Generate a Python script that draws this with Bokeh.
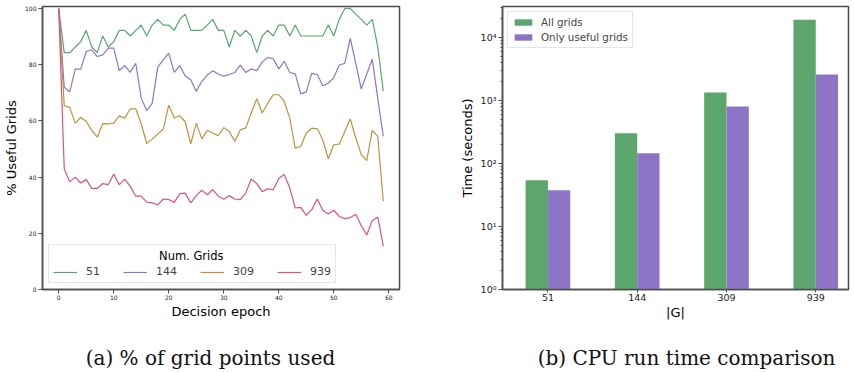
from bokeh.plotting import figure
from bokeh.layouts import row, column
from bokeh.models import (ColumnDataSource, FixedTicker, Legend, LegendItem, Label,
                          CustomJSTickFormatter)
from bokeh.core.properties import value
from bokeh.embed import file_html
from bokeh.resources import INLINE

# ---------------- data ----------------
epochs = list(range(60))
grids_51 = [100, 84.3, 84.3, 86.3, 88.2, 92.2, 86.3, 84.3, 90.2, 86.3,
            88.2, 92.2, 92.2, 90.2, 92.2, 94.1, 90.2, 94.1, 96.1, 94.1,
            94.1, 92.2, 96.1, 98.0, 92.2, 92.2, 92.2, 94.1, 96.1, 92.2,
            92.2, 86.3, 92.2, 90.2, 92.2, 90.2, 84.3, 90.2, 92.2, 90.2,
            94.1, 94.1, 90.2, 94.1, 90.2, 90.2, 90.2, 90.2, 90.2, 94.1,
            90.2, 96.1, 100, 100, 98.0, 96.1, 94.1, 96.1, 86.3, 70.6]
grids_144 = [100, 72.0, 70.3, 78.4, 78.4, 84.7, 85.3, 82.9, 83.5, 85.9,
             85.9, 77.9, 79.7, 77.3, 80.5, 68.1, 63.6, 66.3, 79.1, 81.7,
             84.1, 77.3, 79.7, 76.0, 74.6, 70.5, 74.0, 76.3, 77.8, 76.7,
             75.9, 76.5, 77.2, 79.8, 77.2, 78.5, 77.9, 81.0, 82.6, 82.1,
             78.5, 81.2, 77.2, 76.7, 69.6, 70.3, 76.9, 76.5, 72.5, 73.4,
             75.4, 79.8, 80.5, 89.4, 80.5, 71.3, 76.7, 81.9, 68.0, 54.5]
grids_309 = [100, 65.4, 64.8, 59.2, 61.3, 59.8, 56.6, 54.2, 59.0, 58.9,
             59.2, 61.8, 61.0, 64.3, 64.3, 58.9, 51.9, 53.5, 55.3, 57.1,
             65.6, 61.0, 61.9, 59.6, 51.8, 59.2, 53.6, 56.6, 55.7, 54.7,
             57.6, 56.2, 52.7, 56.8, 57.5, 62.8, 67.9, 62.8, 66.3, 69.3,
             69.3, 66.9, 61.0, 50.3, 50.9, 55.7, 57.4, 57.2, 53.3, 46.5,
             51.5, 51.7, 56.2, 60.7, 53.9, 48.0, 45.9, 56.6, 54.5, 31.4]
grids_939 = [100, 43.0, 38.3, 40.0, 37.9, 39.1, 36.0, 36.0, 37.7, 37.3,
             41.1, 37.3, 39.3, 36.7, 33.2, 33.2, 31.1, 30.8, 30.1, 32.2,
             32.0, 31.0, 34.1, 34.3, 30.8, 33.4, 35.3, 33.7, 35.5, 33.2,
             32.1, 33.4, 32.2, 32.0, 34.3, 39.3, 37.7, 34.8, 35.8, 35.5,
             39.5, 40.9, 36.1, 29.0, 29.2, 26.4, 28.4, 32.2, 28.2, 26.9,
             28.2, 26.0, 25.2, 25.6, 26.8, 22.7, 19.4, 24.5, 25.8, 15.4]
series_names = ["51", "144", "309", "939"]
epoch_ticks = [0, 10, 20, 30, 40, 50, 60]
pct_ticks = [0, 20, 40, 60, 80, 100]

grid_sizes = ["51", "144", "309", "939"]
time_all = [54, 300, 1340, 19000]
time_useful = [37.7, 145, 800, 2570]
time_ticks = [1, 10, 100, 1000, 10000]

caption_a = "(a) % of grid points used"
caption_b = "(b) CPU run time comparison"

# ---------------- styles ----------------
FONT = "DejaVu Sans"
SPINE = "#4d4d4d"
line_colors = ["#5aa66e", "#8f75c7", "#c0913f", "#d4557d"]
bar_green = "#5ca66e"
bar_purple = "#8e74c6"

def style_axes(p, tick_size):
    for ax in (p.xaxis[0], p.yaxis[0]):
        ax.axis_line_color = SPINE
        ax.axis_line_width = 1.5
        ax.major_tick_line_color = SPINE
        ax.major_tick_out = 4
        ax.major_tick_in = 0
        ax.major_label_text_font = FONT
        ax.major_label_text_font_size = tick_size
        ax.major_label_text_color = "#222222"
        ax.axis_label_text_font = FONT
        ax.axis_label_text_font_size = "13px"
        ax.axis_label_text_font_style = "normal"
        ax.axis_label_text_color = "#000000"
    p.xgrid.visible = False
    p.ygrid.visible = False
    p.outline_line_color = SPINE
    p.outline_line_width = 1.5
    p.outline_line_alpha = 1.0

# ---------------- left plot ----------------
p1 = figure(width=446, height=326, x_range=(-2.95, 61.95), y_range=(0, 100.7),
            output_backend="svg", toolbar_location=None, title=None,
            min_border_left=42, min_border_right=47, min_border_top=6, min_border_bottom=37)
style_axes(p1, "6px")
p1.xaxis.ticker = FixedTicker(ticks=epoch_ticks)
p1.yaxis.ticker = FixedTicker(ticks=pct_ticks)
p1.xaxis.minor_tick_line_color = None
p1.yaxis.minor_tick_line_color = None
p1.xaxis.major_label_standoff = 1
p1.yaxis.major_label_standoff = 2
p1.xaxis.axis_label = "Decision epoch"
p1.yaxis.axis_label = "% Useful Grids"
p1.xaxis.axis_label_standoff = 1
p1.yaxis.axis_label_standoff = 3

items = []
for name, vals, col in zip(series_names, [grids_51, grids_144, grids_309, grids_939], line_colors):
    src = ColumnDataSource(dict(x=epochs, y=vals))
    r = p1.line("x", "y", source=src, line_color=col, line_width=1.2)
    items.append(LegendItem(label=name, renderers=[r]))

leg1 = Legend(items=items, orientation="horizontal", location="bottom_left",
              margin=6, padding=4, spacing=23, label_standoff=9,
              glyph_width=24, glyph_height=12, label_height=12, label_width=10,
              label_text_font=FONT, label_text_font_size="11px",
              title=" ", title_text_font=FONT, title_text_font_size="11.5px",
              title_standoff=2,
              border_line_color="#cccccc", border_line_width=1,
              background_fill_color="white", background_fill_alpha=0.0)
p1.add_layout(leg1, "center")
p1.add_layout(Label(x=24.1, y=11.8, text="Num. Grids", text_align="center",
                    text_baseline="middle", text_font=FONT, text_font_size="11.5px",
                    text_color="#000000", level="overlay"))

# ---------------- right plot ----------------
p2 = figure(width=408, height=326, x_range=(-0.509, 3.367), y_range=(1, 30900),
            y_axis_type="log", output_backend="svg", toolbar_location=None, title=None,
            min_border_left=56, min_border_right=6, min_border_top=6, min_border_bottom=37)
style_axes(p2, "9.5px")
xpos = list(range(len(grid_sizes)))
p2.xaxis.ticker = FixedTicker(ticks=xpos)
p2.xaxis.major_label_overrides = {i: s for i, s in zip(xpos, grid_sizes)}
p2.xaxis.minor_tick_line_color = None
p2.xaxis.major_tick_out = 3
minor = [k * t for t in time_ticks for k in range(2, 10) if k * t < 30900]
p2.yaxis.ticker = FixedTicker(ticks=time_ticks, minor_ticks=minor)
p2.yaxis.minor_tick_line_color = SPINE
p2.yaxis.minor_tick_out = 2
p2.yaxis.minor_tick_in = 0
p2.yaxis.formatter = CustomJSTickFormatter(code="""
const sup = {'0':'\u2070','1':'\u00b9','2':'\u00b2','3':'\u00b3','4':'\u2074',
             '5':'\u2075','6':'\u2076','7':'\u2077','8':'\u2078','9':'\u2079','-':'\u207b'};
const e = Math.round(Math.log10(tick));
return '10' + String(e).split('').map(c => sup[c]).join('');
""")
p2.xaxis.major_label_standoff = 1
p2.yaxis.major_label_standoff = 2
p2.xaxis.axis_label = "|G|"
p2.yaxis.axis_label = "Time (seconds)"
p2.xaxis.axis_label_standoff = 1
p2.yaxis.axis_label_standoff = 3

src_b = ColumnDataSource(dict(
    xa=[x - 0.125 for x in xpos], xb=[x + 0.125 for x in xpos],
    all=time_all, useful=time_useful, base=[1] * len(xpos)))
ra = p2.vbar(x="xa", top="all", bottom="base", width=0.25, source=src_b,
             fill_color=bar_green, line_color=None)
rb = p2.vbar(x="xb", top="useful", bottom="base", width=0.25, source=src_b,
             fill_color=bar_purple, line_color=None)
leg2 = Legend(items=[LegendItem(label="All grids", renderers=[ra]),
                     LegendItem(label="Only useful grids", renderers=[rb])],
              location="top_left", margin=5, padding=4, spacing=3, label_standoff=7,
              glyph_width=22, glyph_height=8, label_height=12,
              label_text_font=FONT, label_text_font_size="10.3px",
              border_line_color="#cccccc", border_line_width=1,
              background_fill_color="white", background_fill_alpha=0.8)
p2.add_layout(leg2, "center")

# ---------------- captions ----------------
def caption_fig(width, text, cx):
    c = figure(width=width, height=46, x_range=(0, width), y_range=(0, 46),
               output_backend="svg", toolbar_location=None, title=None,
               x_axis_location=None, y_axis_location=None,
               min_border_left=0, min_border_right=0, min_border_top=0, min_border_bottom=0)
    c.xgrid.visible = False
    c.ygrid.visible = False
    c.outline_line_color = None
    c.text(x=[cx], y=[15], text=[text], text_align="center", text_baseline="middle",
           text_font=value("DejaVu Serif"), text_font_size="20px", text_color="#111111")
    return c

c1 = caption_fig(446, caption_a, 210)
c2 = caption_fig(408, caption_b, 240)

layout = column(row(p1, p2), row(c1, c2))
open("out.html", "w").write(file_html(layout, INLINE))
